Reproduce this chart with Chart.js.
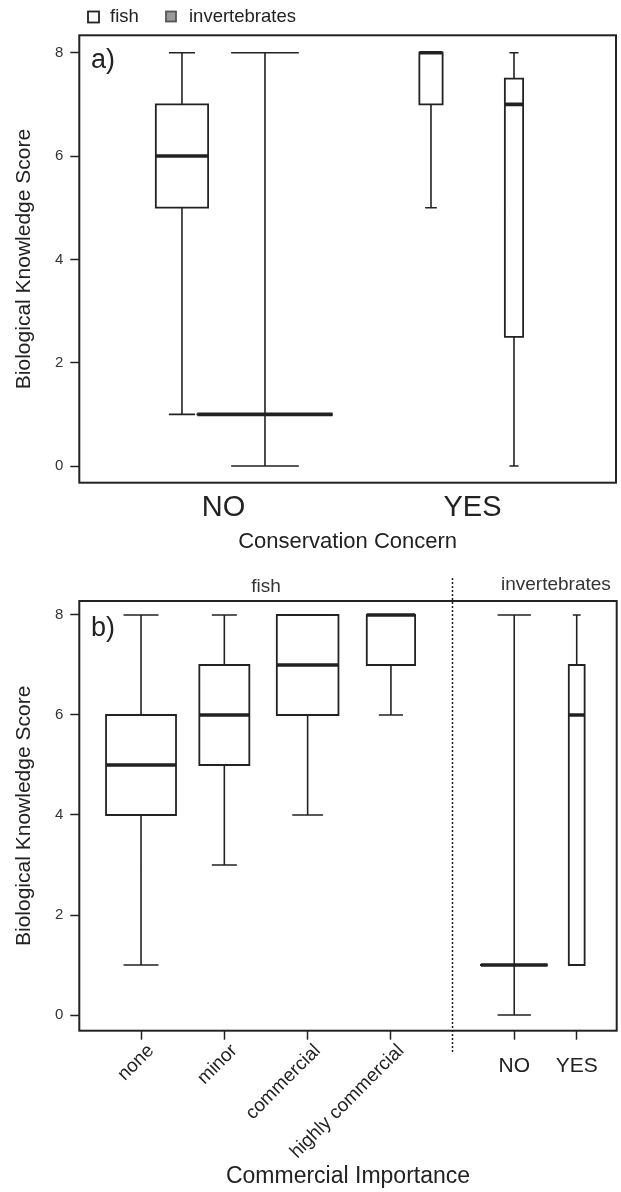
<!DOCTYPE html>
<html>
<head>
<meta charset="utf-8">
<script src="https://cdn.jsdelivr.net/npm/chart.js@4.4.1/dist/chart.umd.min.js"></script>
<style>
  body { margin: 0; background: #fff; }
  .panel { position: absolute; left: 0; width: 621px; }
  #panelA { top: 0; height: 560px; }
  #panelB { top: 560px; height: 632px; }
</style>
</head>
<body>
<div class="panel" id="panelA"><canvas id="chartA"></canvas></div>
<div class="panel" id="panelB"><canvas id="chartB"></canvas></div>
<script>
// a) score par preoccupation de conservation (fish NO, inv NO, fish YES, inv YES)
const concern = ["NO", "YES"];
const taxa = ["fish", "invertebrates"];
const minA = [1, 0, 5, 0];
const q1A = [5, 1, 7, 2.5];
const medA = [6, 1, 8, 7];
const q3A = [7, 1, 8, 7.5];
const maxA = [8, 8, 8, 8];

// b) score par importance commerciale (fish) puis invertebrates NO / YES
const importance = ["none", "minor", "commercial", "highly commercial"];
const minB = [1, 3, 4, 6, 0, 1];
const q1B = [4, 5, 6, 7, 1, 1];
const medB = [5, 6, 7, 8, 1, 6];
const q3B = [6, 7, 8, 8, 1, 7];
const maxB = [8, 8, 8, 8, 8, 8];

const yTicks = [0, 2, 4, 6, 8];

// mise en page (positions sur l'axe x et largeurs des boites)
const slotsA = [1, 2, 4, 5];
const labelSlotsA = [1.5, 4.5];
const widthsA = [0.63, 1.63, 0.28, 0.22];
const slotsB = [1, 2, 3, 4, 5.48, 6.23];
const widthsB = [0.84, 0.6, 0.74, 0.58, 0.8, 0.19];
const separatorB = 4.73;

const INK = "#222";
const FONT = "'Liberation Sans', Arial, sans-serif";

function boxDatasets(pos, widths, mins, q1s, meds, q3s, maxs) {
  const whiskers = [];
  const boxes = [];
  const medians = [];
  pos.forEach((x, i) => {
    const h = widths[i] / 2;
    const c = widths[i] / 4;
    whiskers.push({ x: x, y: q3s[i] }, { x: x, y: maxs[i] }, { x: x, y: null });
    whiskers.push({ x: x, y: mins[i] }, { x: x, y: q1s[i] }, { x: x, y: null });
    whiskers.push({ x: x - c, y: maxs[i] }, { x: x + c, y: maxs[i] }, { x: x, y: null });
    whiskers.push({ x: x - c, y: mins[i] }, { x: x + c, y: mins[i] }, { x: x, y: null });
    boxes.push(
      { x: x - h, y: q1s[i] }, { x: x + h, y: q1s[i] }, { x: x + h, y: q3s[i] },
      { x: x - h, y: q3s[i] }, { x: x - h, y: q1s[i] }, { x: x, y: null }
    );
    medians.push({ x: x - h, y: meds[i] }, { x: x + h, y: meds[i] }, { x: x, y: null });
  });
  const line = (label, data, w, cap) => ({
    label: label,
    data: data,
    borderColor: INK,
    borderWidth: w,
    borderCapStyle: cap,
    borderJoinStyle: "miter",
    pointRadius: 0,
    tension: 0,
    spanGaps: false,
    fill: false,
  });
  return [
    line("whiskers", whiskers, 1.6, "butt"),
    line("boxes", boxes, 1.8, "square"),
    line("medians", medians, 3.6, "butt"),
  ];
}

function yScale(min, max) {
  return {
    type: "linear",
    min: min,
    max: max,
    afterBuildTicks: (s) => { s.ticks = yTicks.map((v) => ({ value: v })); },
    afterFit: (s) => { s.width = 79.3; },
    border: { display: false },
    grid: { drawOnChartArea: false, drawTicks: true, tickLength: 9, tickColor: INK, tickWidth: 1.5 },
    ticks: { color: "#333", padding: 7, font: { family: FONT, size: 15 } },
    title: {
      display: true,
      text: "Biological Knowledge Score",
      color: INK,
      padding: { top: 12, bottom: 0 },
      font: { family: FONT, size: 21 },
    },
  };
}

// cadre + textes
const framePlugin = {
  id: "frame",
  afterDatasetsDraw(chart) {
    const { ctx, chartArea: a } = chart;
    ctx.save();
    ctx.strokeStyle = INK;
    ctx.lineWidth = 2;
    ctx.strokeRect(a.left, a.top, a.right - a.left, a.bottom - a.top);
    ctx.restore();
  },
};

const annotA = {
  id: "annotA",
  afterDraw(chart) {
    const ctx = chart.ctx;
    ctx.save();
    ctx.fillStyle = INK;
    ctx.textBaseline = "alphabetic";
    ctx.font = "27px " + FONT;
    ctx.fillText("a)", 91, 68);
    // legende
    ctx.font = "18.5px " + FONT;
    ctx.textBaseline = "middle";
    ctx.lineWidth = 1.8;
    ctx.strokeStyle = INK;
    ctx.fillStyle = "#fff";
    ctx.fillRect(88, 11.5, 11, 11);
    ctx.strokeRect(88, 11.5, 11, 11);
    ctx.fillStyle = "#999";
    ctx.fillRect(166, 11.5, 10, 10);
    ctx.strokeStyle = "#555";
    ctx.strokeRect(166, 11.5, 10, 10);
    ctx.fillStyle = INK;
    ctx.fillText(taxa[0], 110, 17);
    ctx.fillText(taxa[1], 189, 17);
    ctx.restore();
  },
};

const annotB = {
  id: "annotB",
  afterDraw(chart) {
    const ctx = chart.ctx;
    const xs = chart.scales.x;
    ctx.save();
    ctx.fillStyle = INK;
    ctx.font = "27px " + FONT;
    ctx.textBaseline = "alphabetic";
    ctx.fillText("b)", 91, 76);
    ctx.font = "19px " + FONT;
    ctx.textBaseline = "middle";
    ctx.textAlign = "center";
    ctx.fillStyle = "#333";
    ctx.fillText(taxa[0], xs.getPixelForValue(2.5), 27);
    ctx.fillText(taxa[1], xs.getPixelForValue(5.98), 25);
    const sx = Math.round(xs.getPixelForValue(separatorB)) + 0.5;
    ctx.strokeStyle = INK;
    ctx.lineWidth = 1.5;
    ctx.setLineDash([2, 2]);
    ctx.beginPath();
    ctx.moveTo(sx, 18);
    ctx.lineTo(sx, 493);
    ctx.stroke();
    ctx.restore();
  },
};

Chart.defaults.font.family = FONT;

new Chart(document.getElementById("chartA"), {
  type: "line",
  data: { datasets: boxDatasets(slotsA, widthsA, minA, q1A, medA, q3A, maxA) },
  options: {
    responsive: true,
    maintainAspectRatio: false,
    animation: false,
    layout: { padding: { top: 35.3, right: 5, left: 0, bottom: 0 } },
    plugins: { legend: { display: false }, tooltip: { enabled: false } },
    scales: {
      x: {
        type: "linear",
        min: -0.237,
        max: 6.229,
        afterBuildTicks: (s) => { s.ticks = labelSlotsA.map((v) => ({ value: v })); },
        afterFit: (s) => { s.height = 77.3; },
        border: { display: false },
        grid: { display: false, drawTicks: false },
        ticks: {
          autoSkip: false,
          maxRotation: 0,
          padding: 8,
          color: INK,
          font: { family: FONT, size: 29 },
          callback: (v, i) => concern[i],
        },
        title: {
          display: true,
          text: "Conservation Concern",
          color: INK,
          padding: { top: 0, bottom: 5 },
          font: { family: FONT, size: 22 },
        },
      },
      y: yScale(-0.323, 8.337),
    },
  },
  plugins: [framePlugin, annotA],
});

new Chart(document.getElementById("chartB"), {
  type: "line",
  data: { datasets: boxDatasets(slotsB, widthsB, minB, q1B, medB, q3B, maxB) },
  options: {
    responsive: true,
    maintainAspectRatio: false,
    animation: false,
    layout: { padding: { top: 41, right: 4.3, left: 0, bottom: 0 } },
    plugins: { legend: { display: false }, tooltip: { enabled: false } },
    scales: {
      x: {
        type: "linear",
        position: "bottom",
        weight: 2,
        min: 0.259,
        max: 6.71,
        afterBuildTicks: (s) => { s.ticks = slotsB.slice(0, 4).map((v) => ({ value: v })); },
        afterFit: (s) => { s.height = 161.3; },
        border: { display: false },
        grid: { drawOnChartArea: false, drawTicks: true, tickLength: 9, tickColor: INK, tickWidth: 1.5 },
        ticks: {
          autoSkip: false,
          minRotation: 45,
          maxRotation: 45,
          padding: 0,
          labelOffset: 10,
          color: INK,
          font: { family: FONT, size: 19 },
          callback: (v, i) => importance[i],
        },
        title: {
          display: true,
          text: "Commercial Importance",
          color: INK,
          padding: { top: 0, bottom: 2 },
          font: { family: FONT, size: 23 },
        },
      },
      // second axe du bas, hauteur nulle : NO / YES des invertebres, sans rotation
      x2: {
        type: "linear",
        position: "bottom",
        weight: 1,
        min: 0.259,
        max: 6.71,
        afterBuildTicks: (s) => { s.ticks = slotsB.slice(4).map((v) => ({ value: v })); },
        afterFit: (s) => { s.height = 0; },
        border: { display: false },
        grid: { drawOnChartArea: false, drawTicks: true, tickLength: 9, tickColor: INK, tickWidth: 1.5 },
        ticks: {
          autoSkip: false,
          maxRotation: 0,
          mirror: true,
          padding: -47.7,
          color: INK,
          font: { family: FONT, size: 21 },
          callback: (v, i) => concern[i],
        },
      },
      y: yScale(-0.314, 8.28),
    },
  },
  plugins: [framePlugin, annotB],
});
</script>
</body>
</html>
